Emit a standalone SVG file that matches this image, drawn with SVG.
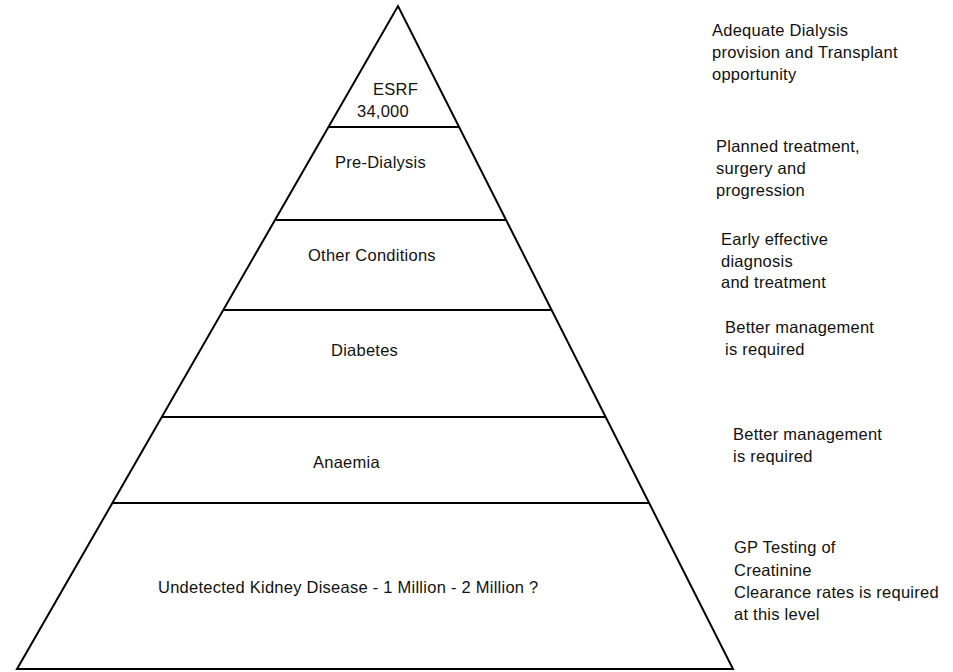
<svg xmlns="http://www.w3.org/2000/svg" width="953" height="672" viewBox="0 0 953 672">
<style>
.t{font-family:"Liberation Sans",Arial,sans-serif;font-size:16.5px;letter-spacing:0.25px;fill:#111}
.ln{stroke:#000;stroke-width:2;fill:none}
</style>
<rect width="953" height="672" fill="#fff"/>
<g id="connectors">
<path class="ln" d="M17,669 L398,6 L733,669 Z"/>
<line class="ln" x1="329" y1="127" x2="459" y2="127"/>
<line class="ln" x1="276" y1="220" x2="506" y2="220"/>
<line class="ln" x1="224" y1="310" x2="552" y2="310"/>
<line class="ln" x1="162" y1="417" x2="606" y2="417"/>
<line class="ln" x1="112" y1="503" x2="649" y2="503"/>
</g>
<g id="esrf"><text class="t" x="373" y="95">ESRF</text><text class="t" x="357" y="117">34,000</text></g>
<g id="predialysis"><text class="t" x="335" y="168">Pre-Dialysis</text></g>
<g id="other"><text class="t" x="308" y="261">Other Conditions</text></g>
<g id="diabetes"><text class="t" x="331" y="356">Diabetes</text></g>
<g id="anaemia"><text class="t" x="313" y="468">Anaemia</text></g>
<g id="undetected"><text class="t" x="158" y="593">Undetected Kidney Disease - 1 Million - 2 Million ?</text></g>
<g id="note1"><text class="t" x="712" y="36">Adequate Dialysis</text><text class="t" x="712" y="58">provision and Transplant</text><text class="t" x="712" y="80">opportunity</text></g>
<g id="note2"><text class="t" x="716" y="152">Planned treatment,</text><text class="t" x="716" y="174">surgery and</text><text class="t" x="716" y="196">progression</text></g>
<g id="note3"><text class="t" x="721" y="245">Early effective</text><text class="t" x="721" y="267">diagnosis</text><text class="t" x="721" y="288">and treatment</text></g>
<g id="note4"><text class="t" x="725" y="333">Better management</text><text class="t" x="725" y="355">is required</text></g>
<g id="note5"><text class="t" x="733" y="440">Better management</text><text class="t" x="733" y="462">is required</text></g>
<g id="note6"><text class="t" x="734" y="553">GP Testing of</text><text class="t" x="734" y="576">Creatinine</text><text class="t" x="734" y="598">Clearance rates is required</text><text class="t" x="734" y="620">at this level</text></g>
</svg>
